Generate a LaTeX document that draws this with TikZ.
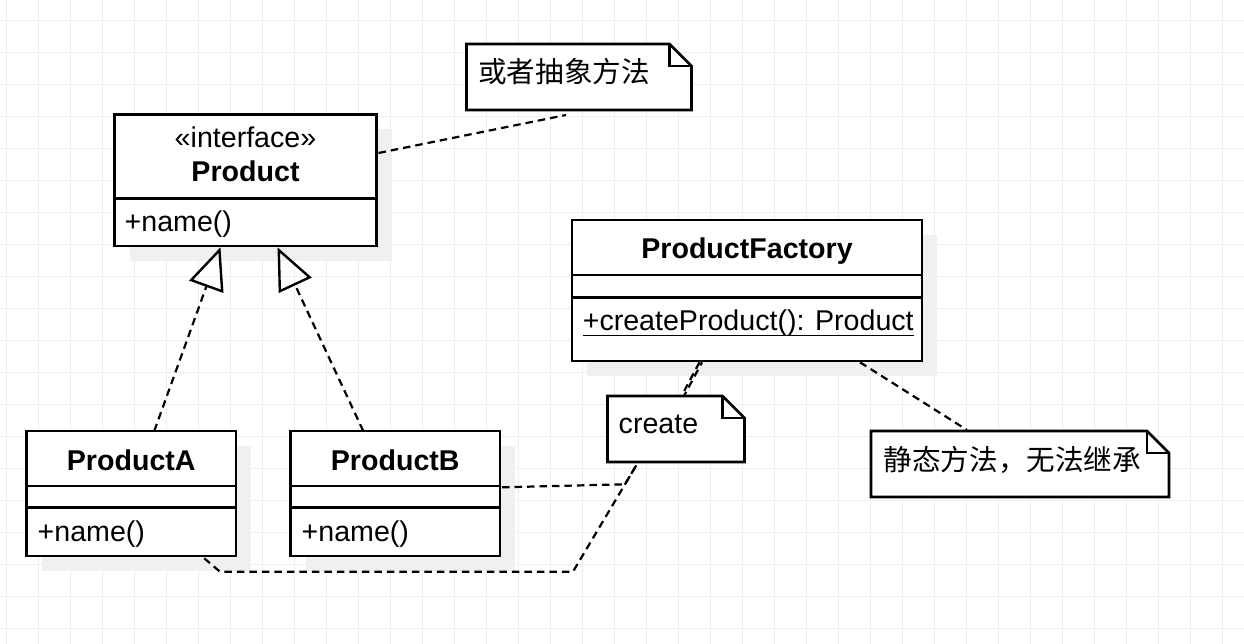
\documentclass[tikz,border=0pt]{standalone}
\usepackage{fontspec}
\setmainfont{Liberation Sans}
\newfontfamily\cjk{Noto Sans CJK SC}
\usetikzlibrary{calc,arrows.meta,shadows}
\definecolor{gridc}{HTML}{EEEEEE}
\definecolor{shadowc}{HTML}{F0F0F0}
\newcommand\umlnote[2]{%
  \draw[noteline] (#1.north west) -- ($(#1.north east)+(-#2,0)$) -- ($(#1.north east)+(0,#2)$) -- (#1.south east) -- (#1.south west) -- cycle;
  \draw[noteline, fill=none] ($(#1.north east)+(-#2,0)$) -- ($(#1.north east)+(-#2,#2)$) -- ($(#1.north east)+(0,#2)$);
}
\begin{document}
\begin{tikzpicture}[x=1pt,y=-1pt,
  classbox/.style={draw=black, line width=2.6pt, fill=white, inner sep=0pt, outer sep=0pt,
     general shadow={fill=shadowc, shadow xshift=15pt, shadow yshift=-15pt}},
  noteframe/.style={inner sep=0pt, outer sep=0pt, draw=none},
  noteline/.style={draw=black, line width=2.6pt, fill=white, line join=miter},
  sepline/.style={line width=2.6pt},
  txt/.style={inner sep=0pt, font=\fontsize{28.6}{34}\selectfont},
  btxt/.style={inner sep=0pt, font=\fontsize{28.6}{34}\selectfont\bfseries},
  dline/.style={line width=2.2pt, dash pattern=on 7.5pt off 5pt},
  realize/.style={dline, -{Triangle[open, length=42pt, width=36pt, line width=2.4pt]}},
]
\fill[white] (0,0) rectangle (1244,644);
\useasboundingbox (0,0) rectangle (1244,644);
% grid
\foreach \gx in {6.5,38.5,...,1244} \draw[gridc, line width=1pt] (\gx,0) -- (\gx,644);
\foreach \gy in {20.3,52.3,...,644} \draw[gridc, line width=1pt] (0,\gy) -- (1244,\gy);

% Product interface
\node[classbox, minimum width=262pt, minimum height=131.5pt] (P) at (245.5,180.25) {};
\draw[sepline] ($(P.north west)+(0,84)$) -- ($(P.north east)+(0,84)$);
\node[txt, anchor=base] (Pst) at ($(P.north)+(0,33)$) {«interface»};
\node[btxt, anchor=base] (Pname) at ($(P.north)+(0,67)$) {Product};
\node[txt, anchor=base west] (Pop) at ($(P.north west)+(10,117)$) {+name()};

% ProductA
\node[classbox, minimum width=209.5pt, minimum height=125pt] (A) at (131.25,493.5) {};
\draw[sepline] ($(A.north west)+(0,55)$) -- ($(A.north east)+(0,55)$);
\draw[sepline] ($(A.north west)+(0,76.7)$) -- ($(A.north east)+(0,76.7)$);
\node[btxt, anchor=base] (Aname) at ($(A.north)+(0,39.2)$) {ProductA};
\node[txt, anchor=base west] (Aop) at ($(A.north west)+(11,110.5)$) {+name()};

% ProductB
\node[classbox, minimum width=209.5pt, minimum height=125pt] (B) at (395.25,493.5) {};
\draw[sepline] ($(B.north west)+(0,55)$) -- ($(B.north east)+(0,55)$);
\draw[sepline] ($(B.north west)+(0,76.7)$) -- ($(B.north east)+(0,76.7)$);
\node[btxt, anchor=base] (Bname) at ($(B.north)+(0,39.2)$) {ProductB};
\node[txt, anchor=base west] (Bop) at ($(B.north west)+(11,110.5)$) {+name()};

% ProductFactory
\node[classbox, minimum width=350pt, minimum height=141pt] (F) at (747,290.5) {};
\draw[sepline] ($(F.north west)+(0,55)$) -- ($(F.north east)+(0,55)$);
\draw[sepline] ($(F.north west)+(0,77.3)$) -- ($(F.north east)+(0,77.3)$);
\node[btxt, anchor=base] (Fname) at ($(F.north)+(0,38.2)$) {ProductFactory};
\node[txt, anchor=base west] (Fop) at ($(F.north west)+(10.6,110.5)$) {+createProduct(): Product};
\draw[line width=1.6pt] ($(Fop.base west)+(0,5)$) -- ($(Fop.base east)+(0,5)$);

% Notes
\node[noteframe, minimum width=225pt, minimum height=66pt] (N1) at (579,77) {};
\umlnote{N1}{22}
\node[txt, anchor=base west] (N1t) at ($(N1.north west)+(11.5,38.5)$) {\cjk 或者抽象方法};

\node[noteframe, minimum width=137pt, minimum height=66pt] (NC) at (676,429) {};
\umlnote{NC}{22}
\node[txt, anchor=base west] (NCt) at ($(NC.north west)+(11,37.8)$) {create};

\node[noteframe, minimum width=298pt, minimum height=66pt] (N3) at (1020,464) {};
\umlnote{N3}{22}
\node[txt, anchor=base west] (N3t) at ($(N3.north west)+(12.5,39.3)$) {\cjk 静态方法，无法继承};

% Connectors
\draw[dline] ($(P.east)+(2,-27.25)$) -- ($(N1.south)+(-13,5)$);
\draw[realize] ($(A.north)+(23,0)$) -- ($(P.south)+(-25,1.3)$);
\draw[realize] ($(B.north)+(-32,0)$) -- ($(P.south)+(32,1.3)$);
\draw[dline] ($(F.south)+(-47.5,1.3)$) -- ($(NC.north)+(5.5,0)$);
\draw[dline, dash phase=4pt] ($(F.south)+(-45,1.3)$) -- ($(NC.north)+(8,0)$);
\draw[dline] ($(F.south)+(113,1.3)$) -- ($(N3.north)+(-53,-1)$);
\draw[dline] ($(B.east)+(2,-6.2)$) -- ++(123,-3) -- ($(NC.south)+(-38.5,1.3)$);
\draw[dline] ($(A.south)+(73,2.3)$) -- ++(15.7,13.4) -- ++(353,0) -- ($(NC.south)+(-38.5,1.3)$);
\end{tikzpicture}
\end{document}
